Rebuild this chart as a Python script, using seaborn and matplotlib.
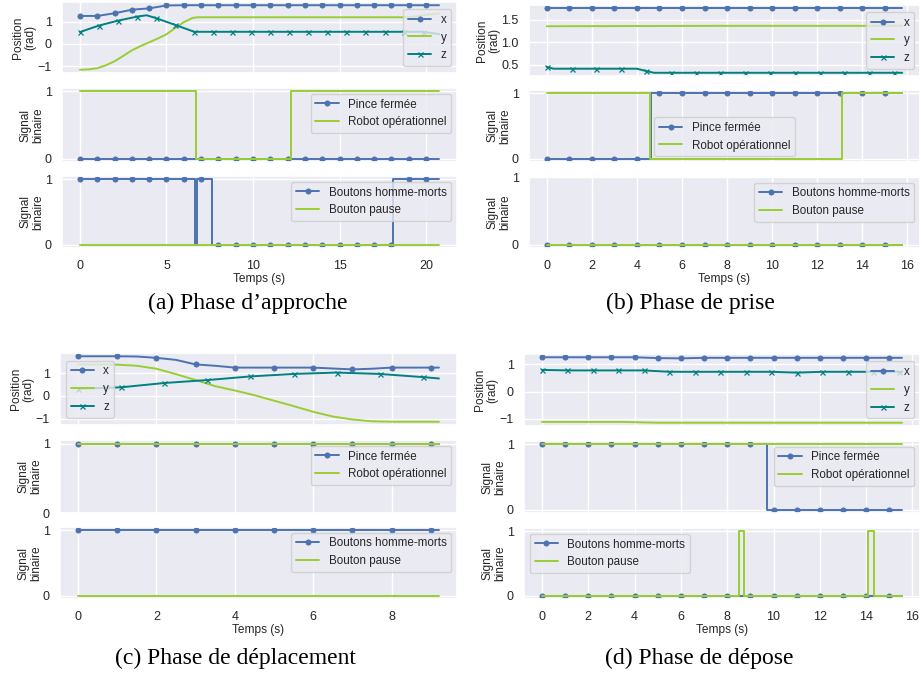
import matplotlib
matplotlib.use("Agg")
import matplotlib.pyplot as plt
import seaborn as sns

# ---------------- data ----------------
# (a) Phase d'approche
a_tx = [0, 1, 2, 3, 4, 5, 6, 7, 8, 9, 10, 11, 12, 13, 14, 15, 16, 17, 18, 19, 20, 20.75]
a_x = [1.25, 1.25, 1.37, 1.53, 1.59, 1.72, 1.73, 1.73, 1.73, 1.73, 1.73, 1.73, 1.73, 1.73,
       1.73, 1.73, 1.73, 1.73, 1.73, 1.73, 1.73, 1.73]
a_ty = [0, 0.5, 1, 1.5, 2, 2.5, 3, 3.5, 4, 4.5, 5, 5.5, 6, 6.5, 6.8, 19, 20, 20.75]
a_y = [-1.16, -1.14, -1.09, -0.96, -0.78, -0.54, -0.29, -0.10, 0.07, 0.24, 0.43, 0.71, 0.97,
       1.16, 1.19, 1.19, 1.30, 1.36]
a_tz = [0, 1.1, 2.2, 3.3, 3.85, 4.4, 5.5, 6.6, 7.7, 8.8, 9.9, 11, 12.1, 13.2, 14.3, 15.4,
        16.5, 17.6, 18.7, 19.8, 20.75]
a_z = [0.53, 0.82, 1.04, 1.22, 1.28, 1.15, 0.85, 0.54, 0.54, 0.54, 0.54, 0.54, 0.54, 0.54,
       0.54, 0.54, 0.54, 0.54, 0.54, 0.54, 0.44]
a_t_pince = [0, 1, 2, 3, 4, 5, 6, 7, 8, 9, 10, 11, 12, 13, 14, 15, 16, 17, 18, 19, 20, 20.75]
a_pince = [0, 0, 0, 0, 0, 0, 0, 0, 0, 0, 0, 0, 0, 0, 0, 0, 0, 0, 0, 0, 0, 0]
a_t_robot = [0, 6.72, 12.22, 20.75]
a_robot = [1, 0, 1, 1]
a_t_boutons = [0, 1, 2, 3, 4, 5, 6, 6.62, 6.75, 7, 7.62, 8, 9, 10, 11, 12, 13, 14, 15, 16,
               17, 18, 18.1, 19, 20, 20.75]
a_boutons = [1, 1, 1, 1, 1, 1, 1, 0, 1, 1, 0, 0, 0, 0, 0, 0, 0, 0, 0, 0, 0, 0, 1, 1, 1, 1]
a_t_pause = [0, 20.75]
a_pause = [0, 0]

# (b) Phase de prise
b_tx = [0, 1, 2, 3, 4, 5, 6, 7, 8, 9, 10, 11, 12, 13, 14, 15, 15.77]
b_x = [1.75, 1.75, 1.75, 1.75, 1.75, 1.75, 1.75, 1.75, 1.75, 1.75, 1.75, 1.75, 1.75, 1.75,
       1.75, 1.75, 1.75]
b_ty = [0, 3, 8, 15.77]
b_y = [1.35, 1.355, 1.36, 1.36]
b_tz = [0, 0.3, 1.1, 2.2, 3.3, 4.0, 4.4, 4.75, 5.5, 6.6, 7.7, 8.8, 9.9, 11, 12.1, 13.2,
        14.3, 15.4, 15.77]
b_z = [0.45, 0.41, 0.41, 0.41, 0.41, 0.41, 0.36, 0.32, 0.32, 0.32, 0.32, 0.32, 0.32, 0.32,
       0.32, 0.32, 0.32, 0.32, 0.32]
b_t_pince = [0, 1, 2, 3, 4, 4.63, 5, 6, 7, 8, 9, 10, 11, 12, 13, 14, 15, 15.77]
b_pince = [0, 0, 0, 0, 0, 1, 1, 1, 1, 1, 1, 1, 1, 1, 1, 1, 1, 1]
b_t_robot = [0, 4.57, 13.12, 15.77]
b_robot = [1, 0, 1, 1]
b_t_boutons = [0, 1, 2, 3, 4, 5, 6, 7, 8, 9, 10, 11, 12, 13, 14, 15, 15.77]
b_boutons = [0, 0, 0, 0, 0, 0, 0, 0, 0, 0, 0, 0, 0, 0, 0, 0, 0]
b_t_pause = [0, 15.77]
b_pause = [0, 0]

# (c) Phase de déplacement
c_tx = [0, 1, 1.5, 2, 2.5, 3, 3.5, 4, 4.5, 5, 6, 6.5, 7, 7.5, 8, 9, 9.21]
c_x = [1.75, 1.75, 1.74, 1.68, 1.59, 1.39, 1.33, 1.25, 1.25, 1.25, 1.25, 1.21, 1.17, 1.20,
       1.25, 1.25, 1.25]
c_ty = [0, 1, 1.5, 2, 2.5, 3, 3.5, 4, 4.5, 5, 5.5, 6, 6.5, 7, 7.5, 8, 9.21]
c_y = [1.39, 1.38, 1.33, 1.20, 0.96, 0.70, 0.43, 0.24, 0.03, -0.21, -0.45, -0.70, -0.91,
       -1.04, -1.12, -1.14, -1.14]
c_tz = [0, 1.1, 2.2, 3.3, 4.4, 5.5, 6.6, 7.7, 8.8, 9.21]
c_z = [0.32, 0.38, 0.57, 0.70, 0.86, 0.97, 1.03, 0.97, 0.83, 0.77]
c_t_pince = [0, 1, 2, 3, 4, 5, 6, 7, 8, 9, 9.21]
c_pince = [1, 1, 1, 1, 1, 1, 1, 1, 1, 1, 1]
c_t_robot = [0, 9.21]
c_robot = [1, 1]
c_t_boutons = [0, 1, 2, 3, 4, 5, 6, 7, 8, 9, 9.21]
c_boutons = [1, 1, 1, 1, 1, 1, 1, 1, 1, 1, 1]
c_t_pause = [0, 9.21]
c_pause = [0, 0]

# (d) Phase de dépose
d_tx = [0, 1, 2, 3, 4, 5, 6, 7, 8, 9, 10, 11, 12, 13, 14, 15, 15.55]
d_x = [1.25, 1.25, 1.25, 1.25, 1.25, 1.22, 1.21, 1.23, 1.23, 1.23, 1.23, 1.23, 1.23, 1.23,
       1.23, 1.23, 1.23]
d_ty = [0, 3.5, 5, 15.55]
d_y = [-1.11, -1.11, -1.14, -1.14]
d_tz = [0, 1.1, 2.2, 3.3, 4.4, 5.5, 6.6, 7.7, 8.8, 9.9, 11, 12.1, 13.2, 14.3, 15.4, 15.55]
d_z = [0.79, 0.77, 0.77, 0.77, 0.77, 0.72, 0.72, 0.72, 0.72, 0.72, 0.69, 0.72, 0.72, 0.72,
       0.72, 0.72]
d_t_pince = [0, 1, 2, 3, 4, 5, 6, 7, 8, 9, 9.72, 10, 11, 12, 13, 14, 15, 15.55]
d_pince = [1, 1, 1, 1, 1, 1, 1, 1, 1, 1, 0, 0, 0, 0, 0, 0, 0, 0]
d_t_robot = [0, 15.55]
d_robot = [1, 1]
d_t_boutons = [0, 1, 2, 3, 4, 5, 6, 7, 8, 9, 10, 11, 12, 13, 14, 15, 15.55]
d_boutons = [0, 0, 0, 0, 0, 0, 0, 0, 0, 0, 0, 0, 0, 0, 0, 0, 0]
d_t_pause = [0, 8.52, 8.72, 14.1, 14.36, 15.55]
d_pause = [0, 1, 0, 1, 0, 0]

# tick labels
a_xticks = [0, 5, 10, 15, 20]
b_xticks = [0, 2, 4, 6, 8, 10, 12, 14, 16]
c_xticks = [0, 2, 4, 6, 8]
d_xticks = [0, 2, 4, 6, 8, 10, 12, 14, 16]
a_pos_ticks = [-1, 0, 1]
b_pos_ticks = [0.5, 1.0, 1.5]
c_pos_ticks = [-1, 0, 1]
d_pos_ticks = [-1, 0, 1]
bin_ticks = [0, 1]

captions = ["(a) Phase d\u2019approche", "(b) Phase de prise",
            "(c) Phase de déplacement", "(d) Phase de dépose"]
lab_pos = "Position\n(rad)"
lab_sig = "Signal\nbinaire"
lab_t = "Temps (s)"
leg_traj = ["x", "y", "z"]
leg_mid = ["Pince fermée", "Robot opérationnel"]
leg_bot = ["Boutons homme-morts", "Bouton pause"]

# ---------------- style ----------------
sns.set_theme(style="darkgrid")
plt.rcParams["font.family"] = ["Liberation Sans", "DejaVu Sans"]
plt.rcParams["xtick.labelsize"] = 9
plt.rcParams["ytick.labelsize"] = 9
plt.rcParams["axes.labelsize"] = 8.6
plt.rcParams["legend.fontsize"] = 8.4
plt.rcParams["xtick.color"] = "0.15"
plt.rcParams["ytick.color"] = "0.15"
plt.rcParams["xtick.major.pad"] = 2.5
plt.rcParams["ytick.major.pad"] = 1.5
plt.rcParams["axes.labelpad"] = 0.5

C_X = "#4c72b0"
C_Y = "#9acd32"
C_Z = "#008080"
LW = 1.4

W, H = 921, 675
fig = plt.figure(figsize=(W / 100, H / 100), dpi=100)


def rect(x0, x1, y0, y1):
    return [x0 / W, 1 - y1 / H, (x1 - x0) / W, (y1 - y0) / H]


def every(ts, step):
    return [i for i, t in enumerate(ts) if abs(t / step - round(t / step)) < 1e-6]


def line(ax, t, v, color, label, marker=None, step=None, steps=False):
    kw = dict(x=t, y=v, ax=ax, color=color, label=label, linewidth=LW,
              estimator=None, sort=False)
    if marker is not None:
        kw.update(marker=marker, markevery=every(t, step), markeredgecolor=color,
                  markerfacecolor=color)
        if marker == "o":
            kw.update(markersize=3.8, markeredgewidth=0.5)
        else:
            kw.update(markersize=3.6, markeredgewidth=0.9)
    if steps:
        kw["drawstyle"] = "steps-post"
    sns.lineplot(**kw)


panels = [
    dict(xr=(62, 457), ys=[(2, 73), (88, 162), (176, 248)],
         tx=a_tx, x=a_x, ty=a_ty, y=a_y, tz=a_tz, z=a_z,
         tp=a_t_pince, p=a_pince, tr=a_t_robot, r=a_robot,
         tb=a_t_boutons, b=a_boutons, tq=a_t_pause, q=a_pause,
         xticks=a_xticks, pticks=a_pos_ticks,
         legs=["center right", "upper right", "upper right"],
         ylims=[None, None, None], cap=(248, 303)),
    dict(xr=(529, 920), ys=[(5, 76), (90, 162), (177, 248)],
         tx=b_tx, x=b_x, ty=b_ty, y=b_y, tz=b_tz, z=b_z,
         tp=b_t_pince, p=b_pince, tr=b_t_robot, r=b_robot,
         tb=b_t_boutons, b=b_boutons, tq=b_t_pause, q=b_pause,
         xticks=b_xticks, pticks=b_pos_ticks,
         legs=["center right", "lower center", "upper right"],
         ylims=[None, None, (-0.05, 1.0)], cap=(690, 303)),
    dict(xr=(60, 457), ys=[(353, 425), (440, 513), (527, 599)],
         tx=c_tx, x=c_x, ty=c_ty, y=c_y, tz=c_tz, z=c_z,
         tp=c_t_pince, p=c_pince, tr=c_t_robot, r=c_robot,
         tb=c_t_boutons, b=c_boutons, tq=c_t_pause, q=c_pause,
         xticks=c_xticks, pticks=c_pos_ticks,
         legs=["center left", "upper right", "upper right"],
         ylims=[None, (0, 1.055), None], cap=(235, 658)),
    dict(xr=(524, 920), ys=[(354, 426), (441, 513), (528, 599)],
         tx=d_tx, x=d_x, ty=d_ty, y=d_y, tz=d_tz, z=d_z,
         tp=d_t_pince, p=d_pince, tr=d_t_robot, r=d_robot,
         tb=d_t_boutons, b=d_boutons, tq=d_t_pause, q=d_pause,
         xticks=d_xticks, pticks=d_pos_ticks,
         legs=["center right", "upper right", "upper left"],
         ylims=[None, None, None], cap=(699, 658)),
]

for k, P in enumerate(panels):
    x0, x1 = P["xr"]
    ax1 = fig.add_axes(rect(x0, x1, *P["ys"][0]))
    ax2 = fig.add_axes(rect(x0, x1, *P["ys"][1]), sharex=ax1)
    ax3 = fig.add_axes(rect(x0, x1, *P["ys"][2]), sharex=ax1)

    line(ax1, P["tx"], P["x"], C_X, leg_traj[0], marker="o", step=1.0)
    line(ax1, P["ty"], P["y"], C_Y, leg_traj[1])
    line(ax1, P["tz"], P["z"], C_Z, leg_traj[2], marker="x", step=1.1)

    line(ax2, P["tp"], P["p"], C_X, leg_mid[0], marker="o", step=1.0, steps=True)
    line(ax2, P["tr"], P["r"], C_Y, leg_mid[1], steps=True)

    line(ax3, P["tb"], P["b"], C_X, leg_bot[0], marker="o", step=1.0, steps=True)
    line(ax3, P["tq"], P["q"], C_Y, leg_bot[1], steps=True)

    for ax, loc, yl in zip((ax1, ax2, ax3), P["legs"], P["ylims"]):
        ax.legend(loc=loc, frameon=True)
        if yl is not None:
            ax.set_ylim(*yl)
        ax.set_xlabel("")
    ax1.set_yticks(P["pticks"])
    if k == 1:
        ax1.set_yticklabels([f"{v:.1f}" for v in P["pticks"]])
    ax2.set_yticks(bin_ticks)
    ax3.set_yticks(bin_ticks)
    ax1.set_ylabel(lab_pos, linespacing=1.05)
    ax2.set_ylabel(lab_sig, linespacing=1.05)
    ax3.set_ylabel(lab_sig, linespacing=1.05)
    ax3.set_xticks(P["xticks"])
    ax1.tick_params(labelbottom=False)
    ax2.tick_params(labelbottom=False)
    ax3.set_xlabel(lab_t)
    ax3.xaxis.labelpad = 1

    cx, cy = P["cap"]
    fig.text(cx / W, 1 - cy / H, captions[k], ha="center", va="center",
             family=["Liberation Serif", "DejaVu Serif"], fontsize=17, color="black")

fig.savefig("out.png", dpi=100, facecolor="white")
